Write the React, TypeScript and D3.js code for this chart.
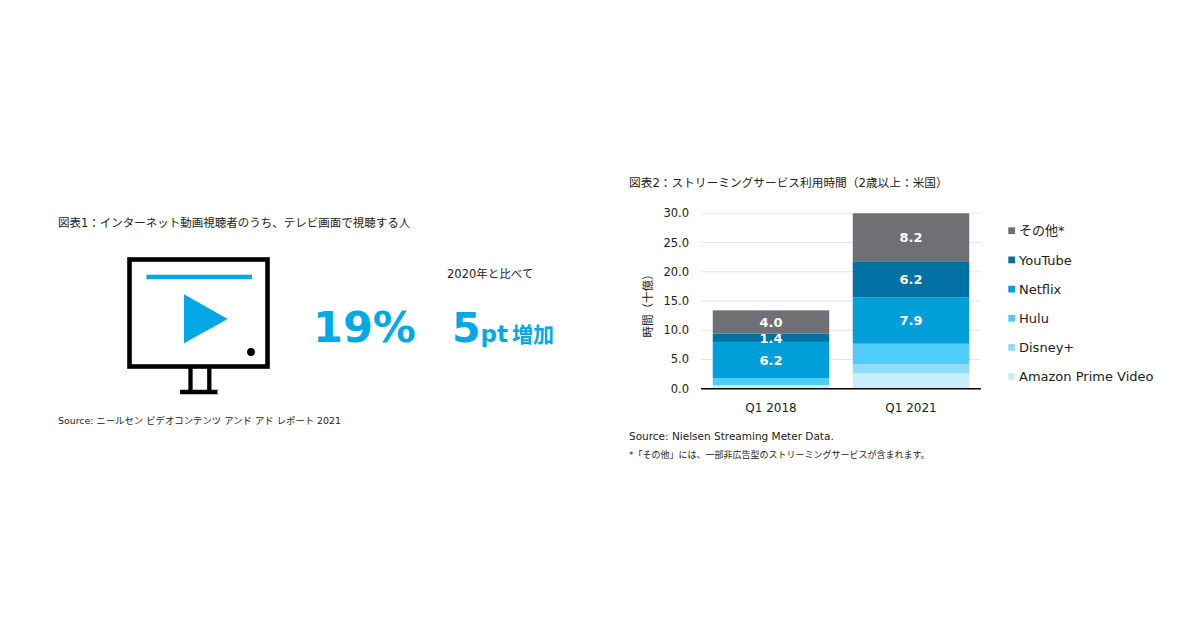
import React from "react";
import * as d3 from "d3";

// ---- Data ----
const categories = ["Q1 2018", "Q1 2021"];
const seriesNames = ["Amazon Prime Video", "Disney+", "Hulu", "Netflix", "YouTube", "その他*"];
const amazonValues = [0.6, 2.6];
const disneyValues = [0, 1.6];
const huluValues = [1.2, 3.5];
const netflixValues = [6.2, 7.9];
const youtubeValues = [1.4, 6.2];
const otherValues = [4.0, 8.2];
const seriesColors = ["#c8eefc", "#8edcfb", "#4fcdf7", "#009fda", "#0071a2", "#6f7073"];
const labeledSeries = ["Netflix", "YouTube", "その他*"];
const yTicks = [0, 5, 10, 15, 20, 25, 30];
const legendOrder = ["その他*", "YouTube", "Netflix", "Hulu", "Disney+", "Amazon Prime Video"];

const headline = "19%";
const increaseNumber = "5";
const increaseUnit = "pt";
const increaseWord = "増加";

const FONT = "'DejaVu Sans', 'Noto Sans CJK JP', sans-serif";
const JP = "'Noto Sans CJK JP', 'DejaVu Sans', sans-serif";
const BLUE = "#00a8e6";

export default function App() {
  const allSeries = [amazonValues, disneyValues, huluValues, netflixValues, youtubeValues, otherValues];
  const rows = categories.map((c, i) => {
    const r: Record<string, any> = { category: c };
    seriesNames.forEach((s, k) => (r[s] = allSeries[k][i]));
    return r;
  });
  const stack = d3.stack<any>().keys(seriesNames)(rows);

  const plotLeft = 701;
  const plotRight = 981;
  const plotTop = 213.3;
  const plotBottom = 388.7;

  const x = d3.scaleBand<string>().domain(categories).range([plotLeft, plotRight]).paddingInner(0.168).paddingOuter(0.084);
  const y = d3.scaleLinear().domain([0, 30]).range([plotBottom, plotTop]);

  return (
    <svg width={1200} height={630} style={{ position: "absolute", left: 0, top: 0, background: "#fff" }}>
      {/* ---------- Left infographic ---------- */}
      <text x={58} y={227} fontFamily={FONT} fontSize={11.5} fill="#222">
        図表1：インターネット動画視聴者のうち、テレビ画面で視聴する人
      </text>
      {/* TV icon */}
      <rect x={129.5} y={259.5} width={138} height={107} fill="none" stroke="#000" strokeWidth={4.6} />
      <line x1={146.5} x2={252} y1={277} y2={277} stroke={BLUE} strokeWidth={4.6} />
      <polygon points="184,294.3 184,343.3 227.7,319" fill={BLUE} />
      <circle cx={251} cy={352} r={3.9} fill="#000" />
      <line x1={190.5} x2={190.5} y1={368} y2={392} stroke="#000" strokeWidth={4.3} />
      <line x1={209.3} x2={209.3} y1={368} y2={392} stroke="#000" strokeWidth={4.3} />
      <line x1={180} x2={217.5} y1={392} y2={392} stroke="#000" strokeWidth={4.3} />

      <text x={447} y={278} fontFamily={FONT} fontSize={11.5} fill="#222">2020年と比べて</text>
      <text x={313} y={342} fontFamily={FONT} fontSize={43} fontWeight="bold" fill={BLUE}>{headline}</text>
      <text x={452} y={342} fontFamily={FONT} fontWeight="bold" fill={BLUE}>
        <tspan fontSize={41}>{increaseNumber}</tspan>
        <tspan fontSize={23}>{increaseUnit}</tspan>
        <tspan fontSize={21} fontFamily={JP} dx={4}>{increaseWord}</tspan>
      </text>
      <text x={58} y={424} fontFamily={FONT} fontSize={9.4} fill="#222">
        Source: ニールセン ビデオコンテンツ アンド アド レポート 2021
      </text>

      {/* ---------- Right chart ---------- */}
      <text x={629} y={187} fontFamily={FONT} fontSize={11.7} fill="#222">
        図表2：ストリーミングサービス利用時間（2歳以上：米国）
      </text>

      {/* gridlines */}
      {yTicks.map((t) => (
        <line key={"g" + t} x1={plotLeft} x2={plotRight} y1={y(t)} y2={y(t)} stroke="#e6e6e6" strokeWidth={1} />
      ))}
      {/* y tick labels */}
      {yTicks.map((t) => (
        <text key={"t" + t} x={689} y={y(t)} dy="0.35em" textAnchor="end" fontFamily={FONT} fontSize={11.5} fill="#222">
          {t.toFixed(1)}
        </text>
      ))}
      <text
        transform={`translate(652,${(plotTop + plotBottom) / 2 + 2}) rotate(-90)`}
        textAnchor="middle"
        fontFamily={FONT}
        fontSize={11.5}
        fill="#222"
      >
        時間（十億）
      </text>

      {/* bars */}
      {stack.map((layer, k) =>
        layer.map((d, i) => {
          const h = y(d[0]) - y(d[1]);
          if (h <= 0) return null;
          return (
            <rect
              key={layer.key + i}
              x={x(categories[i])}
              y={y(d[1])}
              width={x.bandwidth()}
              height={h}
              fill={seriesColors[k]}
            />
          );
        })
      )}
      {/* bar value labels */}
      {stack.map((layer) =>
        labeledSeries.includes(layer.key)
          ? layer.map((d, i) => (
              <text
                key={"l" + layer.key + i}
                x={(x(categories[i]) as number) + x.bandwidth() / 2}
                y={y((d[0] + d[1]) / 2)}
                dy="0.36em"
                textAnchor="middle"
                fontFamily={FONT}
                fontSize={13}
                fontWeight="bold"
                fill="#fff"
              >
                {(d[1] - d[0]).toFixed(1)}
              </text>
            ))
          : null
      )}
      {/* x axis */}
      <line x1={plotLeft} x2={plotRight} y1={plotBottom} y2={plotBottom} stroke="#000" strokeWidth={1.6} />
      {categories.map((c) => (
        <text key={c} x={(x(c) as number) + x.bandwidth() / 2} y={412} textAnchor="middle" fontFamily={FONT} fontSize={12} fill="#222">
          {c}
        </text>
      ))}

      {/* legend */}
      {legendOrder.map((name, i) => {
        const k = seriesNames.indexOf(name);
        const cy = 230.7 + i * 29.2;
        return (
          <g key={name}>
            <rect x={1008.3} y={cy - 3.4} width={6.8} height={6.8} fill={seriesColors[k]} />
            <text x={1019} y={cy} dy="0.36em" fontFamily={FONT} fontSize={13} fill="#222">{name}</text>
          </g>
        );
      })}

      <text x={629} y={440} fontFamily={FONT} fontSize={10.5} fill="#222">Source: Nielsen Streaming  Meter Data.</text>
      <text x={629} y={458} fontFamily={FONT} fontSize={9} fill="#222">*「その他」には、一部非広告型のストリーミングサービスが含まれます。</text>
    </svg>
  );
}
